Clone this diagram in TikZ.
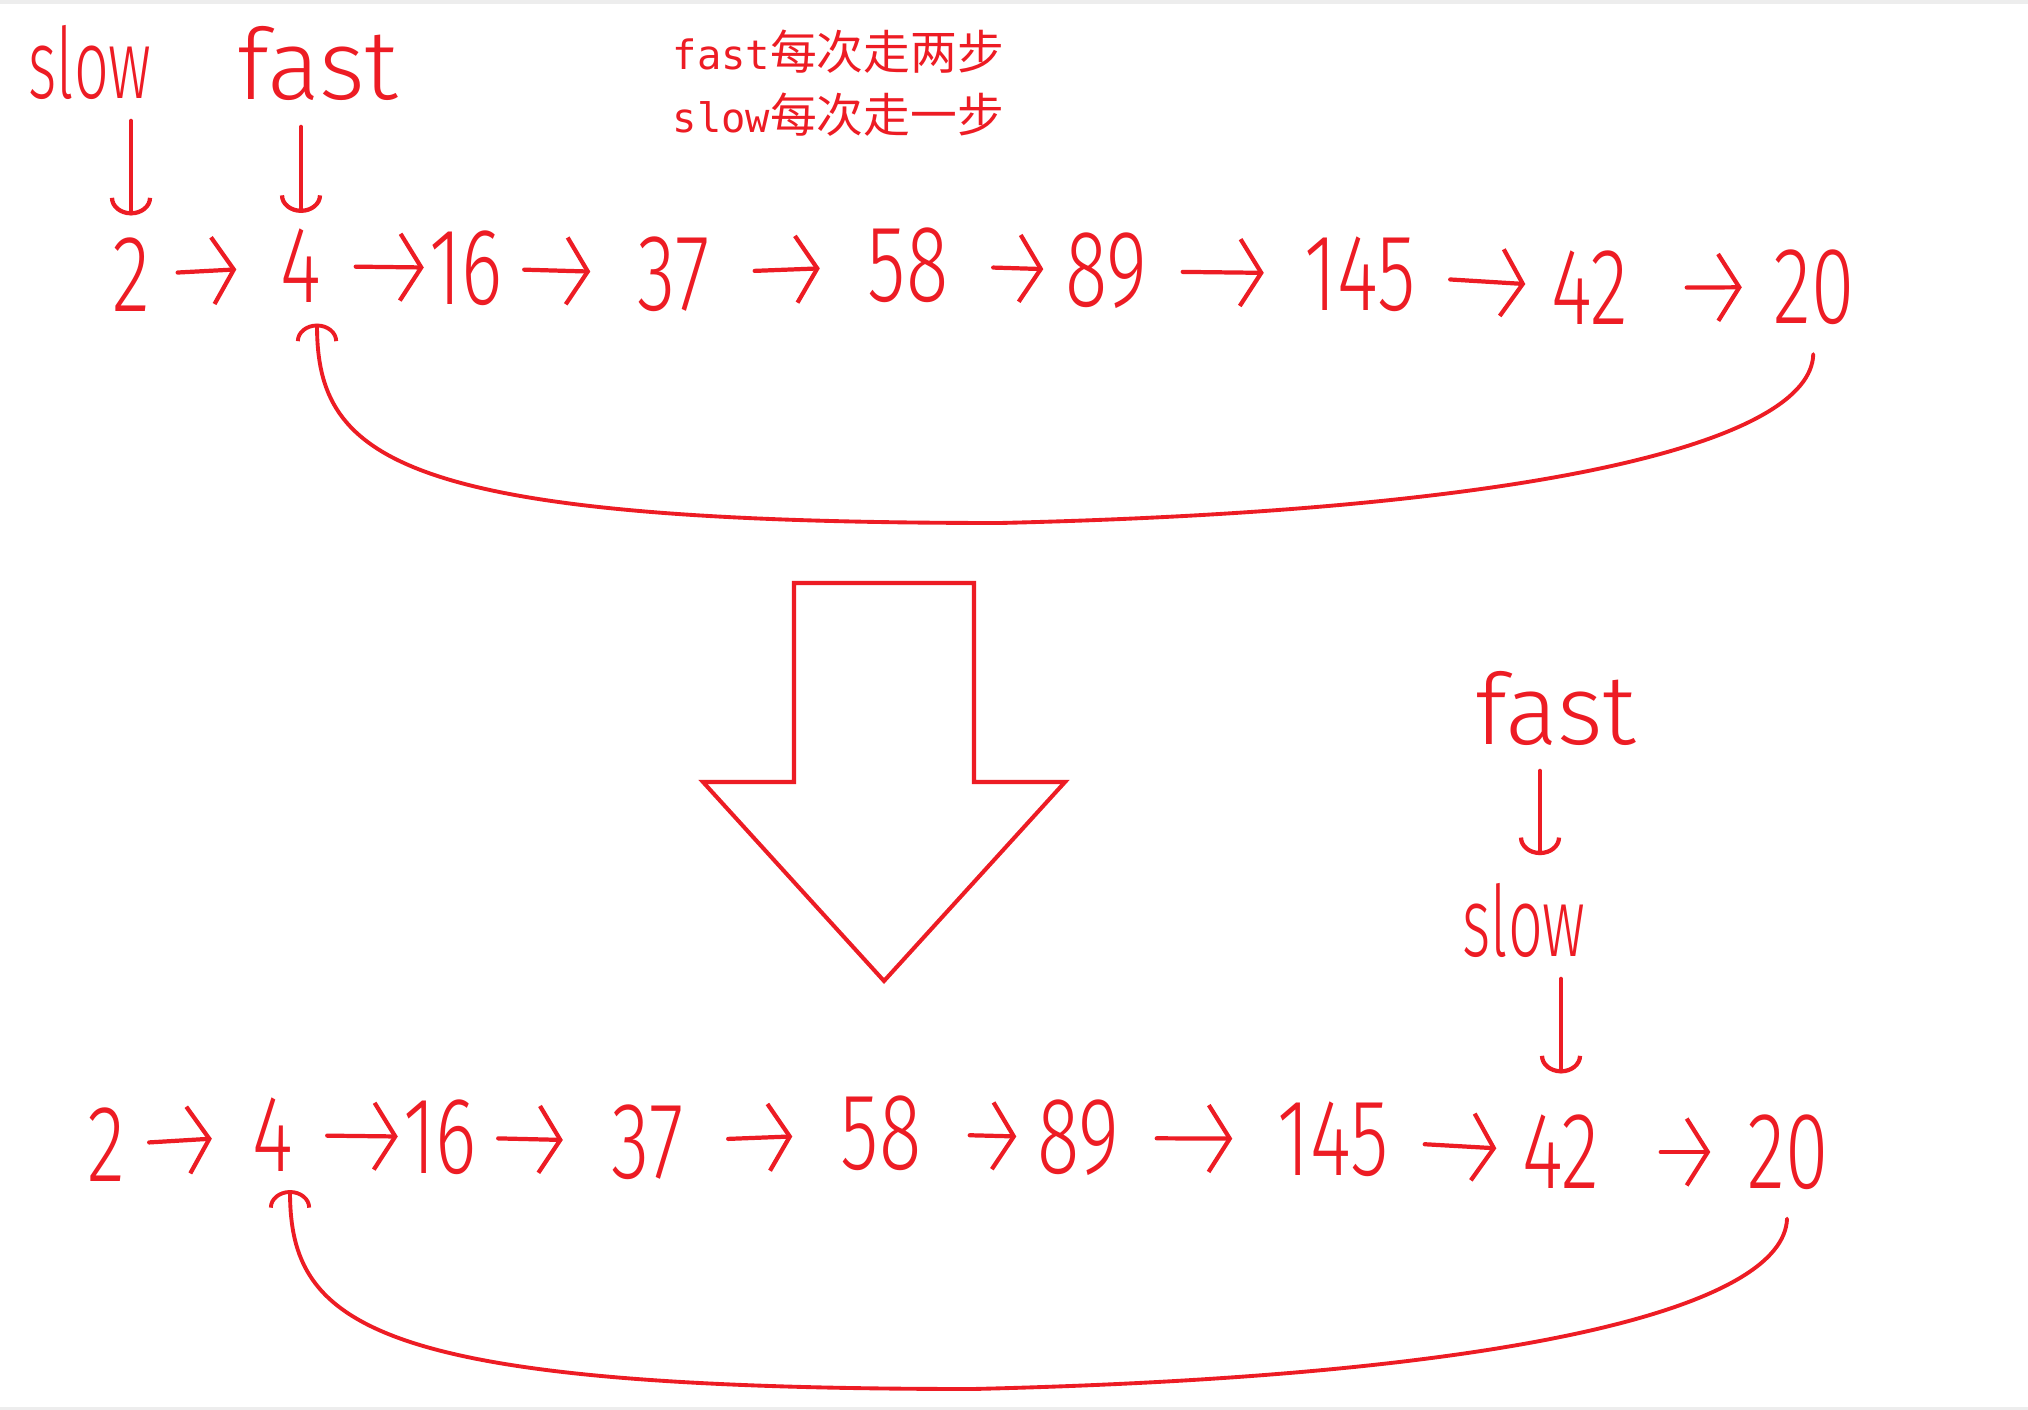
\documentclass[tikz,border=0pt]{standalone}
\usepackage{fontspec}
\usepackage{graphicx}
\usetikzlibrary{arrows.meta}
\newfontfamily\hand{Fira Sans Light}
\newfontfamily\cjk{Noto Sans CJK SC}
\newfontfamily\monolat{DejaVu Sans Mono}
\definecolor{pen}{RGB}{237,28,36}
\newcommand\hnum[1]{\makebox[0pt]{\scalebox{0.72}[1]{#1}}}
\newcommand\hword[2]{\scalebox{#1}[1]{#2}}
\newcommand\lat[1]{{\monolat\fontsize{11.5}{16}\selectfont #1}}
\begin{document}
\begin{tikzpicture}[x=0.01cm,y=-0.01cm,
  num/.style={font=\hand\fontsize{31}{31}\selectfont, text=pen, inner sep=0pt, anchor=center},
  lbl/.style={font=\hand\fontsize{28}{28}\selectfont, text=pen, inner sep=0pt},
  stroke/.style={draw=pen, line width=1.2pt, line cap=round, line join=round},
  rowarrow/.style={stroke, -{Straight Barb[length=6pt,width=19pt]}},
  downarrow/.style={stroke, -{Arc Barb[length=5pt,width=12pt]}},
  looparrow/.style={stroke, line width=1.1pt, -{Arc Barb[length=5pt,width=12pt]}},
  note/.style={font=\cjk\fontsize{13.3}{16}\selectfont, text=pen, inner sep=0pt, anchor=base west}
]
\useasboundingbox (0,0) rectangle (2028,1410);
\fill[white] (0,0) rectangle (2028,1410);
\fill[black!7] (0,0) rectangle (2028,4);
\fill[black!7] (0,1407) rectangle (2028,1410);

% notes
\node[note] (t1) at (672,70) {\lat{fast}每次走两步};
\node[note] (t2) at (672,133) {\lat{slow}每次走一步};

% top row
\node[num, minimum width=0.30cm] (n2) at (131,275) {\hnum{2}};
\node[num, minimum width=0.58cm] (n4) at (301,266) {\hnum{4}};
\node[num, minimum width=0.51cm] (n16) at (466,268) {\hnum{16}};
\node[num, minimum width=1.02cm] (n37) at (674,274) {\hnum{37}};
\node[num, minimum width=1.11cm] (n58) at (908,265) {\hnum{58}};
\node[num, minimum width=0.84cm] (n89) at (1106,271) {\hnum{89}};
\node[num, minimum width=1.27cm] (n145) at (1360,274) {\hnum{145}};
\node[num, minimum width=0.96cm] (n42) at (1590,288) {\hnum{42}};
\node[num, minimum width=1.05cm] (n20) at (1814,287) {\hnum{20}};

\foreach \a/\b/\s/\e in {n2/n4/31/35, n4/n16/25/16, n16/n37/32/32, n37/n58/29/32,
  n58/n89/29/20, n89/n145/34/32, n145/n42/26/16, n42/n20/48/19}
  \draw[rowarrow, shorten <=\s*0.01cm, shorten >=\e*0.01cm] (\a) -- (\b);

% top labels
\node[lbl] (slowT) at (90,62) {\hword{0.62}{slow}};
\node[lbl] (fastT) at (318,63) {\hword{1.0}{fast}};
\draw[downarrow, shorten <=0.21cm, shorten >=0.22cm] (n2 |- slowT.south) -- (n2.north);
\draw[downarrow, shorten <=0.26cm, shorten >=0.155cm] (n4 |- fastT.south) -- (n4.north);

% top loop
\draw[looparrow, shorten <=0.29cm, shorten >=0.2cm] (n20.south)
  .. controls (1811,440) and (1550,510) .. (1000,523)
  .. controls (400,523) and (317,460) .. ([xshift=0.16cm]n4.south);

% big arrow
\draw[draw=pen, line width=1.15pt, line join=miter]
  (794,583) -- (974,583) -- (974,782) -- (1065,782) -- (884,981) -- (703,782) -- (794,782) -- cycle;

% bottom row
\node[num, minimum width=0.29cm] (m2) at (106,1145) {\hnum{2}};
\node[num, minimum width=0.57cm] (m4) at (273,1135) {\hnum{4}};
\node[num, minimum width=0.51cm] (m16) at (440,1137) {\hnum{16}};
\node[num, minimum width=0.99cm] (m37) at (648,1142) {\hnum{37}};
\node[num, minimum width=1.12cm] (m58) at (881,1133) {\hnum{58}};
\node[num, minimum width=0.80cm] (m89) at (1078,1138) {\hnum{89}};
\node[num, minimum width=1.24cm] (m145) at (1333,1139) {\hnum{145}};
\node[num, minimum width=0.96cm] (m42) at (1561,1152) {\hnum{42}};
\node[num, minimum width=1.02cm] (m20) at (1788,1152) {\hnum{20}};

\foreach \a/\b/\s/\e in {m2/m4/28/32, m4/m16/25/16, m16/m37/32/35, m37/m58/30/32,
  m58/m89/32/21, m89/m145/38/38, m145/m42/29/16, m42/m20/51/26}
  \draw[rowarrow, shorten <=\s*0.01cm, shorten >=\e*0.01cm] (\a) -- (\b);

% bottom labels
\node[lbl] (fastB) at (1556,708) {\hword{1.0}{fast}};
\node[lbl] (slowB) at (1524,920) {\hword{0.62}{slow}};
\coordinate (fa) at ([xshift=-0.16cm]fastB.south);
\draw[downarrow, shorten <=0.25cm, shorten >=0.27cm] (fa) -- (fa |- slowB.north);
\draw[downarrow, shorten <=0.21cm, shorten >=0.41cm] (m42 |- slowB.south) -- (m42.north);

% bottom loop
\draw[looparrow, shorten <=0.285cm, shorten >=0.175cm] (m20.south)
  .. controls (1784,1306) and (1523,1376) .. (973,1389)
  .. controls (373,1389) and (290,1326) .. ([xshift=0.17cm]m4.south);
\end{tikzpicture}
\end{document}
